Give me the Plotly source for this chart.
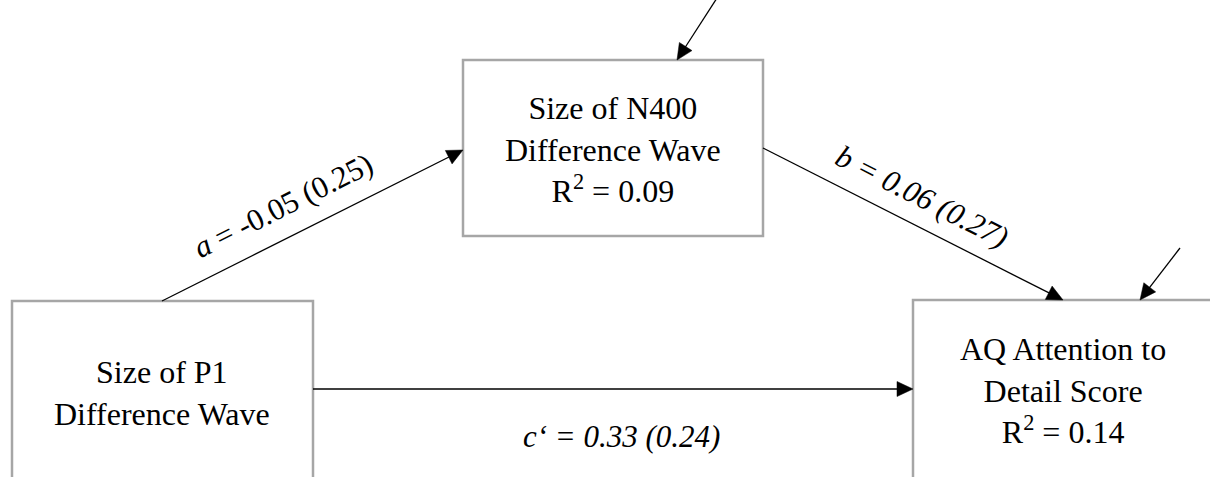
import math
import plotly.graph_objects as go

# ---- data ----
node_ids = ["X", "M", "Y"]
node_labels = ["Size of P1<br>Difference Wave",
               "Size of N400<br>Difference Wave",
               "AQ Attention to<br>Detail Score"]
node_r2 = [None, 0.09, 0.14]

path_names = ["a", "b", "c‘"]
path_coef = [-0.05, 0.06, 0.33]
path_se = [0.25, 0.27, 0.24]

# ---- layout (pixel geometry of the diagram) ----
W, H = 1210, 477
boxes = {  # x0, y0, x1, y1
    "X": (12, 301, 313, 495),
    "M": (463, 60, 763, 236),
    "Y": (913, 300, 1225, 495),
}
text_pos = {"X": (162, 393), "M": (613, 149), "Y": (1063, 390)}
path_geom = {  # tail -> tip
    "a": ((162, 301), (463, 150)),
    "b": ((763, 148), (1063, 300)),
    "c‘": ((313, 389), (913, 389)),
}
label_geom = {"a": (283, 205, -26.6), "b": (922, 196, 26.9), "c‘": (621, 436, 0)}
disturbances = [((717, -2), (677, 60)), ((1180, 248), (1140, 300))]

FONT = "Liberation Serif, Times New Roman, serif"
BORDER = "#a6a6a6"
HEAD_L, HEAD_W = 16, 15

fig = go.Figure()
fig.add_trace(go.Scatter(x=[0, W], y=[0, H], mode="markers",
                         marker=dict(opacity=0), hoverinfo="skip", showlegend=False))

for nid in node_ids:
    x0, y0, x1, y1 = boxes[nid]
    fig.add_shape(type="rect", x0=x0, y0=y0, x1=x1, y1=y1, xref="x", yref="y",
                  line=dict(color=BORDER, width=2.5), fillcolor="white", layer="below")


def add_arrow(tail, tip):
    (tx, ty), (hx, hy) = tail, tip
    dx, dy = hx - tx, hy - ty
    n = math.hypot(dx, dy)
    ux, uy = dx / n, dy / n
    px, py = -uy, ux
    bx, by = hx - HEAD_L * ux, hy - HEAD_L * uy
    fig.add_shape(type="line", x0=tx, y0=ty, x1=bx + 2 * ux, y1=by + 2 * uy,
                  xref="x", yref="y", line=dict(color="black", width=1.3))
    p1 = (bx + HEAD_W / 2 * px, by + HEAD_W / 2 * py)
    p2 = (bx - HEAD_W / 2 * px, by - HEAD_W / 2 * py)
    fig.add_shape(type="path",
                  path=f"M{hx},{hy} L{p1[0]:.2f},{p1[1]:.2f} L{p2[0]:.2f},{p2[1]:.2f} Z",
                  xref="x", yref="y", fillcolor="black", line=dict(color="black", width=0.5))


for name in path_names:
    add_arrow(*path_geom[name])
for tail, tip in disturbances:
    add_arrow(tail, tip)

anns = []
# node texts
for nid, lab, r2 in zip(node_ids, node_labels, node_r2):
    t = lab if r2 is None else f"{lab}<br>R<sup>2</sup> = {r2:.2f}"
    x, y = text_pos[nid]
    anns.append(dict(x=x, y=y, xref="x", yref="y", text=t, showarrow=False,
                     font=dict(family=FONT, size=32, color="black"),
                     xanchor="center", yanchor="middle", align="center"))

# path labels
for name, c, s in zip(path_names, path_coef, path_se):
    x, y, ang = label_geom[name]
    if name == "a":
        t = f"<i>{name}</i> = {c:.2f} ({s:.2f})"
    else:
        t = f"<i>{name} = {c:.2f} ({s:.2f})</i>"
    anns.append(dict(x=x, y=y, xref="x", yref="y", text=t, showarrow=False, textangle=ang,
                     font=dict(family=FONT, size=31, color="black"),
                     xanchor="center", yanchor="middle"))

fig.update_layout(
    width=W, height=H, margin=dict(l=0, r=0, t=0, b=0),
    paper_bgcolor="white", plot_bgcolor="white",
    xaxis=dict(range=[0, W], visible=False, fixedrange=True),
    yaxis=dict(range=[H, 0], visible=False, fixedrange=True),
    annotations=anns, showlegend=False,
)
fig.write_html("out.html")
